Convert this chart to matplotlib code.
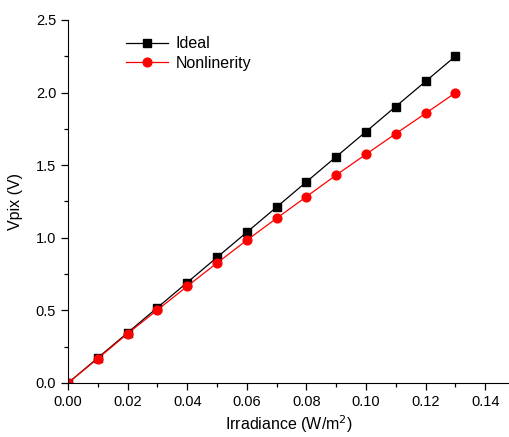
import matplotlib
matplotlib.use('Agg')
import matplotlib.pyplot as plt
from matplotlib.ticker import MultipleLocator

plt.rcParams['font.family'] = ['Liberation Sans', 'DejaVu Sans']

# irradiance (W/m^2)
irradiance = [0.00, 0.01, 0.02, 0.03, 0.04, 0.05, 0.06, 0.07, 0.08, 0.09, 0.10, 0.11, 0.12, 0.13]
# pixel voltage (V)
v_ideal = [0.0, 0.173, 0.346, 0.519, 0.692, 0.865, 1.038, 1.211, 1.385, 1.558, 1.731, 1.904, 2.077, 2.25]
v_nonlin = [0.0, 0.168, 0.340, 0.503, 0.666, 0.826, 0.983, 1.134, 1.283, 1.432, 1.575, 1.717, 1.857, 1.998]

fig = plt.figure(figsize=(5.09, 4.37), dpi=100)
ax = fig.add_axes([0.1336, 0.1236, 0.8664, 0.8307])

ax.plot(irradiance, v_ideal, color='black', lw=0.9, marker='s', markersize=5.8,
        label='Ideal')
ax.plot(irradiance, v_nonlin, color='#ff0000', lw=0.9, marker='o', markersize=6.3,
        label='Nonlinerity')

ax.set_xlim(0, 0.148)
ax.set_ylim(0, 2.5)
ax.xaxis.set_major_locator(MultipleLocator(0.02))
ax.xaxis.set_minor_locator(MultipleLocator(0.01))
ax.yaxis.set_major_locator(MultipleLocator(0.5))
ax.yaxis.set_minor_locator(MultipleLocator(0.25))
ax.xaxis.set_major_formatter(plt.FormatStrFormatter('%.2f'))
ax.yaxis.set_major_formatter(plt.FormatStrFormatter('%.1f'))
ax.tick_params(which='major', direction='out', length=5, width=0.9, labelsize=10.5)
ax.tick_params(which='minor', direction='out', length=3, width=0.9)

ax.spines['top'].set_visible(False)
ax.spines['right'].set_visible(False)

ax.set_xlabel('Irradiance (W/m$^2$)', fontsize=11.5, labelpad=3)
ax.set_ylabel('Vpix (V)', fontsize=11.5, labelpad=9)

ax.legend(loc='upper left', bbox_to_anchor=(0.1, 0.995), frameon=False,
          fontsize=11.5, handlelength=2.6, handletextpad=0.5, labelspacing=0.3)

fig.savefig('out.png', dpi=100)
